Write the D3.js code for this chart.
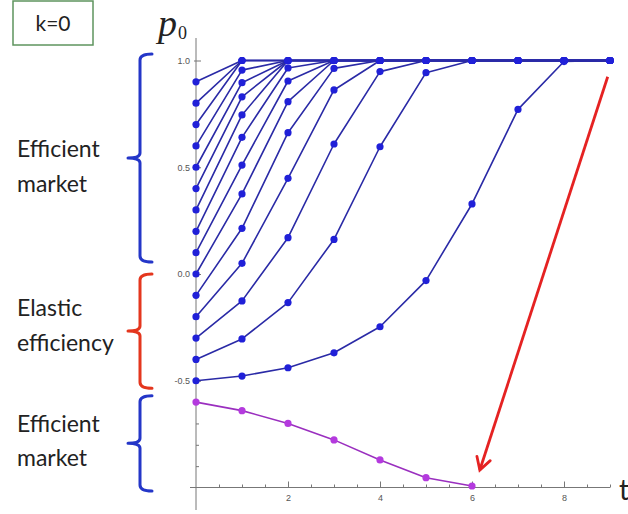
<!DOCTYPE html>
<html>
<head>
<meta charset="utf-8">
<script src="https://cdn.jsdelivr.net/npm/d3@7"></script>
<style>
  html, body { margin: 0; padding: 0; background: #fff; }
  svg { display: block; }
</style>
</head>
<body>
<svg id="chart" width="628" height="514"></svg>
<script>
// ---- data ----
const tValues = [0, 1, 2, 3, 4, 5, 6, 7, 8, 9];
const p_0_9  = [0.9, 1, 1, 1, 1, 1, 1, 1, 1, 1];
const p_0_8  = [0.8, 1, 1, 1, 1, 1, 1, 1, 1, 1];
const p_0_7  = [0.7, 1, 1, 1, 1, 1, 1, 1, 1, 1];
const p_0_6  = [0.6, 0.955, 1, 1, 1, 1, 1, 1, 1, 1];
const p_0_5  = [0.5, 0.896, 1, 1, 1, 1, 1, 1, 1, 1];
const p_0_4  = [0.4, 0.83, 1, 1, 1, 1, 1, 1, 1, 1];
const p_0_3  = [0.3, 0.745, 1, 1, 1, 1, 1, 1, 1, 1];
const p_0_2  = [0.2, 0.64, 0.965, 1, 1, 1, 1, 1, 1, 1];
const p_0_1  = [0.1, 0.51, 0.904, 1, 1, 1, 1, 1, 1, 1];
const p_0_0  = [0.0, 0.375, 0.807, 1, 1, 1, 1, 1, 1, 1];
const p_m0_1 = [-0.1, 0.214, 0.662, 0.963, 1, 1, 1, 1, 1, 1];
const p_m0_2 = [-0.2, 0.05, 0.448, 0.862, 1, 1, 1, 1, 1, 1];
const p_m0_3 = [-0.3, -0.126, 0.17, 0.609, 0.948, 1, 1, 1, 1, 1];
const p_m0_4 = [-0.4, -0.304, -0.134, 0.162, 0.596, 0.943, 1, 1, 1, 1];
const p_m0_5 = [-0.5, -0.478, -0.439, -0.369, -0.247, -0.031, 0.328, 0.771, 0.995, 1];
const p_m0_6 = [-0.6, -0.64, -0.70, -0.777, -0.871, -0.954, -0.993];

const blueSeries = [p_0_9, p_0_8, p_0_7, p_0_6, p_0_5, p_0_4, p_0_3, p_0_2, p_0_1,
                    p_0_0, p_m0_1, p_m0_2, p_m0_3, p_m0_4, p_m0_5];
const magentaSeries = [p_m0_6];

const yMajorTicks = [1.0, 0.5, 0.0, -0.5];
const yMajorLabels = ["1.0", "0.5", "0.0", "-0.5"];
const xMajorTicks = [2, 4, 6, 8];
const xMajorLabels = ["2", "4", "6", "8"];

// regions marked by braces (in p0 units)
const braceRanges = [
  { top: 1.03, bottom: 0.056, color: "#2436c8", label: ["Efficient", "market"] },
  { top: 0.0, bottom: -0.535, color: "#e4361e", label: ["Elastic", "efficiency"] },
  { top: -0.57, bottom: -1.016, color: "#2436c8", label: ["Efficient", "market"] }
];
// arrow (data coords)
const arrowFrom = { t: 8.95, p: 0.924 };
const arrowTo = { t: 6.17, p: -0.918 };

// ---- drawing ----
const svg = d3.select("#chart");
const x = d3.scaleLinear().domain([0, 9]).range([196, 610]);
const y = d3.scaleLinear().domain([-1, 1]).range([487.5, 60.5]);

const axisColor = "#777";
const axisG = svg.append("g");

// axis lines
axisG.append("line").attr("x1", x(0)).attr("x2", x(0)).attr("y1", 38).attr("y2", 510)
  .attr("stroke", axisColor).attr("stroke-width", 1);
axisG.append("line").attr("x1", 190).attr("x2", x(9)).attr("y1", y(-1)).attr("y2", y(-1))
  .attr("stroke", axisColor).attr("stroke-width", 1);

// y axis major ticks & labels
const yAxis = d3.axisLeft(y).tickValues(yMajorTicks)
  .tickFormat((d, i) => yMajorLabels[i]).tickSizeInner(-5).tickSizeOuter(0).tickPadding(6);
const yg = svg.append("g").attr("transform", `translate(${x(0)},0)`).call(yAxis);
yg.select(".domain").remove();
yg.selectAll(".tick line").attr("stroke", axisColor);
yg.selectAll(".tick text").attr("fill", "#555").style("font-family", "Liberation Sans, Arial, sans-serif").style("font-size", "9px");
yg.selectAll(".tick").append("line").attr("x1", -2).attr("x2", 0).attr("stroke", axisColor);

// y minor ticks
const yMinor = d3.range(-9, 11).map(d => d / 10).filter(d => Math.abs(d * 2 - Math.round(d * 2)) > 1e-6);
const ymg = svg.append("g").attr("transform", `translate(${x(0)},0)`)
  .call(d3.axisRight(y).tickValues(yMinor).tickSize(3).tickFormat(""));
ymg.select(".domain").remove();
ymg.selectAll(".tick line").attr("stroke", axisColor);

// x axis major
const xAxis = d3.axisBottom(x).tickValues(xMajorTicks)
  .tickFormat((d, i) => xMajorLabels[i]).tickSizeInner(-6).tickSizeOuter(0).tickPadding(7);
const xg = svg.append("g").attr("transform", `translate(0,${y(-1)})`).call(xAxis);
xg.select(".domain").remove();
xg.selectAll(".tick line").attr("stroke", axisColor);
xg.selectAll(".tick text").attr("fill", "#555").style("font-family", "Liberation Sans, Arial, sans-serif").style("font-size", "9px");

// x minor
const xMinor = d3.range(1, 19).map(d => d / 2).filter(d => d % 2 !== 0);
const xmg = svg.append("g").attr("transform", `translate(0,${y(-1)})`)
  .call(d3.axisTop(x).tickValues(xMinor).tickSize(3).tickFormat(""));
xmg.select(".domain").remove();
xmg.selectAll(".tick line").attr("stroke", axisColor);

// series
const line = d3.line().x((d, i) => x(tValues[i])).y(d => y(d));

function drawSeries(list, lineColor, dotColor) {
  const g = svg.append("g");
  list.forEach(s => {
    g.append("path").attr("d", line(s)).attr("fill", "none")
      .attr("stroke", lineColor).attr("stroke-width", 1.6).attr("stroke-linejoin", "round");
  });
  list.forEach(s => {
    g.selectAll(null).data(s).enter().append("circle")
      .attr("cx", (d, i) => x(tValues[i])).attr("cy", d => y(d)).attr("r", 3.6)
      .attr("fill", dotColor);
  });
}
drawSeries(blueSeries, "#2a2aa6", "#2020d8");
drawSeries(magentaSeries, "#9a2fbf", "#b43ade");

// braces
const bx = 140;
braceRanges.forEach(b => {
  const y0 = y(b.top), y1 = y(b.bottom), ym = (y0 + y1) / 2;
  const p = `M${bx + 12},${y0} Q${bx},${y0} ${bx},${y0 + 6} L${bx},${ym - 5} Q${bx},${ym} ${bx - 12},${ym} ` +
            `Q${bx},${ym} ${bx},${ym + 5} L${bx},${y1 - 6} Q${bx},${y1} ${bx + 12},${y1}`;
  svg.append("path").attr("d", p).attr("fill", "none").attr("stroke", b.color)
    .attr("stroke-width", 3).attr("stroke-linejoin", "round").attr("stroke-linecap", "round");
});

// labels next to braces
const labelFont = "Lato, 'Open Sans', sans-serif";
const labelPos = [[157, 192], [316, 351], [432, 466]];
braceRanges.forEach((b, i) => {
  b.label.forEach((txt, j) => {
    svg.append("text").attr("x", 17).attr("y", labelPos[i][j]).text(txt)
      .attr("fill", "#222").style("font-family", labelFont).style("font-size", "23px");
  });
});

// red arrow
const ax0 = x(arrowFrom.t), ay0 = y(arrowFrom.p), ax1 = x(arrowTo.t), ay1 = y(arrowTo.p);
svg.append("line").attr("x1", ax0).attr("y1", ay0).attr("x2", ax1).attr("y2", ay1)
  .attr("stroke", "#e52222").attr("stroke-width", 2.8);
const ang = Math.atan2(ay1 - ay0, ax1 - ax0);
const hl = 14, ha = Math.PI / 6;
const w1 = [ax1 - hl * Math.cos(ang - ha), ay1 - hl * Math.sin(ang - ha)];
const w2 = [ax1 - hl * Math.cos(ang + ha), ay1 - hl * Math.sin(ang + ha)];
svg.append("path").attr("d", `M${w1[0]},${w1[1]} L${ax1},${ay1} L${w2[0]},${w2[1]}`)
  .attr("fill", "none").attr("stroke", "#e52222").attr("stroke-width", 2.8)
  .attr("stroke-linecap", "round").attr("stroke-linejoin", "miter");

// k=0 box
svg.append("rect").attr("x", 13).attr("y", 1).attr("width", 80).attr("height", 44)
  .attr("fill", "#fff").attr("stroke", "#5e945e").attr("stroke-width", 1.5);
svg.append("text").attr("x", 53).attr("y", 31).attr("text-anchor", "middle").text("k=0")
  .attr("fill", "#222").style("font-family", labelFont).style("font-size", "21px");

// axis titles
const pLab = svg.append("text").attr("x", 158).attr("y", 36)
  .style("font-family", "'Liberation Serif', 'Times New Roman', serif").attr("fill", "#222");
pLab.append("tspan").text("p").style("font-style", "italic").style("font-size", "38px");
pLab.append("tspan").text("0").attr("dx", 1).attr("dy", 3).style("font-size", "18px");

svg.append("text").attr("x", 619).attr("y", 500).text("t").attr("fill", "#222")
  .style("font-family", "Lato, 'Open Sans', sans-serif").style("font-size", "28px");
</script>
</body>
</html>
